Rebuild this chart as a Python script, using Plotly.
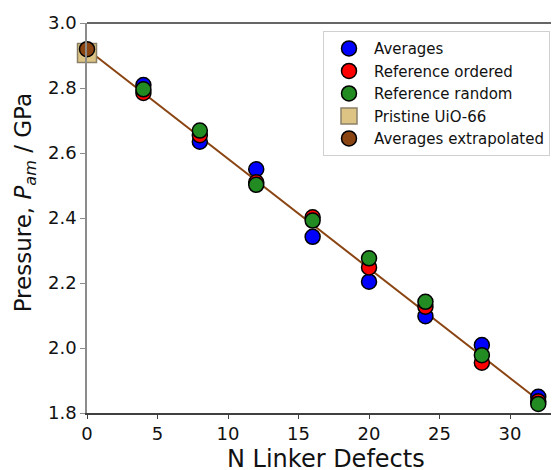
import numpy as np
import plotly.graph_objects as go

defects = [4, 8, 12, 16, 20, 24, 28, 32]
averages = [2.809, 2.635, 2.550, 2.342, 2.204, 2.098, 2.009, 1.850]
ref_ordered = [2.785, 2.655, 2.510, 2.402, 2.248, 2.127, 1.955, 1.836]
ref_random = [2.796, 2.669, 2.502, 2.392, 2.276, 2.142, 1.978, 1.828]
pristine_x = [0]
pristine_y = [2.908]

# linear fit of the averages, extrapolated to zero defects
slope, intercept = np.polyfit(defects, averages, 1)
fit_x = np.array([0, 32])
fit_y = slope * fit_x + intercept

FONT = "DejaVu Sans"
edge = dict(color="black", width=1.5)

fig = go.Figure()
fig.add_trace(go.Scatter(x=fit_x, y=fit_y, mode="lines", line=dict(color="#8B4513", width=2),
                         showlegend=False, hoverinfo="skip", cliponaxis=False))
fig.add_trace(go.Scatter(x=defects, y=averages, mode="markers", name="Averages", cliponaxis=False,
                         marker=dict(color="#0000FF", size=15, line=edge)))
fig.add_trace(go.Scatter(x=defects, y=ref_ordered, mode="markers", name="Reference ordered",
                         cliponaxis=False, marker=dict(color="#FF0000", size=15, line=edge)))
fig.add_trace(go.Scatter(x=defects, y=ref_random, mode="markers", name="Reference random",
                         cliponaxis=False, marker=dict(color="#228B22", size=15, line=edge)))
fig.add_trace(go.Scatter(x=pristine_x, y=pristine_y, mode="markers", name="Pristine UiO-66",
                         cliponaxis=False,
                         marker=dict(color="#DEC484", size=19, symbol="square",
                                     line=dict(color="#8a8068", width=1.5))))
fig.add_trace(go.Scatter(x=[0], y=[intercept], mode="markers", name="Averages extrapolated",
                         cliponaxis=False, marker=dict(color="#8B4513", size=15, line=edge)))

# the page body adds an 8px offset, so the figure is drawn 8px smaller/shifted
fig.update_layout(
    width=551, height=462,
    margin=dict(l=79, r=0, t=15, b=57),
    paper_bgcolor="white", plot_bgcolor="white",
    font=dict(family=FONT, size=18, color="#111"),
    legend=dict(x=0.5, y=0.979, xanchor="left", yanchor="top",
                bgcolor="white", bordercolor="#d0d0d0", borderwidth=1,
                font=dict(size=15, family=FONT), itemwidth=40, tracegroupgap=0),
    xaxis=dict(range=[0, 33.47], tickvals=[0, 5, 10, 15, 20, 25, 30], showgrid=False,
               zeroline=False, showline=True, linecolor="#404040", linewidth=1.5,
               ticks="outside", ticklen=4, tickcolor="#404040", tickwidth=1.2,
               tickfont=dict(size=18, family=FONT)),
    yaxis=dict(range=[1.8, 3.0], tickvals=[1.8, 2.0, 2.2, 2.4, 2.6, 2.8, 3.0],
               tickformat=".1f", showgrid=False, zeroline=False, showline=True,
               linecolor="#8c8c8c", linewidth=1.5, ticks="outside", ticklen=5,
               tickcolor="#8c8c8c", tickwidth=1.2, tickfont=dict(size=18, family=FONT)),
    shapes=[dict(type="line", xref="paper", yref="paper", x0=0, x1=1, y0=1, y1=1,
                 line=dict(color="#333333", width=1.5))],
    annotations=[
        dict(text="N Linker Defects", xref="paper", yref="paper", x=0.506, y=-0.118,
             xanchor="center", yanchor="middle", showarrow=False,
             font=dict(size=24, family=FONT, color="#111")),
        dict(text="Pressure, <i>P<sub>am</sub></i> / GPa", xref="paper", yref="paper",
             x=-0.131, y=0.538, xanchor="center", yanchor="middle", textangle=-90,
             showarrow=False, font=dict(size=23, family=FONT, color="#111")),
    ],
)

fig.write_html("out.html")
